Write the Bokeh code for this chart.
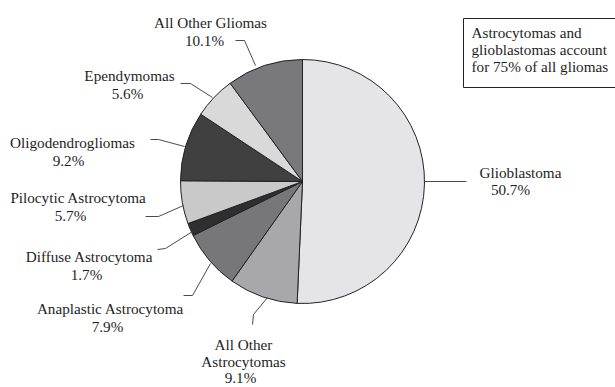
import math
from bokeh.plotting import figure
from bokeh.models import ColumnDataSource, Range1d
from bokeh.core.properties import value
from bokeh.embed import file_html
from bokeh.resources import INLINE

# Glioma subtypes, clockwise from 12 o'clock
categories = ["Glioblastoma", "All Other Astrocytomas", "Anaplastic Astrocytoma",
              "Diffuse Astrocytoma", "Pilocytic Astrocytoma", "Oligodendrogliomas",
              "Ependymomas", "All Other Gliomas"]
percent = [50.7, 9.1, 7.9, 1.7, 5.7, 9.2, 5.6, 10.1]
fills = ["#e5e5e7", "#a8a8aa", "#77777a", "#2f2f2f", "#c9c9ca", "#404040",
         "#d9d9da", "#79797c"]

W, H = 615, 387
FONT = value("Liberation Serif")
FS = "15.2px"


def Y(y):
    # page-style y (from top) to data y
    return H - y


cx, cy, r = 302, Y(181), 122

p = figure(width=W, height=H, output_backend="svg", toolbar_location=None,
           x_range=Range1d(0, W), y_range=Range1d(0, H), min_border=0)
p.axis.visible = False
p.grid.visible = False
p.outline_line_color = None
p.background_fill_color = "white"

total = sum(percent)
starts, ends = [], []
acc = 0.0
for v in percent:
    starts.append(math.pi / 2 - 2 * math.pi * acc / total)
    acc += v
    ends.append(math.pi / 2 - 2 * math.pi * acc / total)

src = ColumnDataSource(dict(start=starts, end=ends, fill=fills, name=categories))
p.wedge(x=cx, y=cy, radius=r, start_angle="start", end_angle="end",
        direction="clock", fill_color="fill", line_color="#222222",
        line_width=1, source=src)

# label placement: name lines, name centre, percentage centre, leader polyline
label_layout = {
    "Glioblastoma": (["Glioblastoma"], (520, 172), (510, 189),
                     [(424, 181), (466, 181)]),
    "All Other Astrocytomas": (["All Other", "Astrocytomas"], (243, 344), (240, 377),
                               [(252, 324), (253, 314), (267, 297)]),
    "Anaplastic Astrocytoma": (["Anaplastic Astrocytoma"], (110, 308), (107, 326),
                               [(183, 295), (192, 295), (210, 263)]),
    "Diffuse Astrocytoma": (["Diffuse Astrocytoma"], (89, 256), (86, 274),
                            [(157, 249), (165, 248), (192, 231)]),
    "Pilocytic Astrocytoma": (["Pilocytic Astrocytoma"], (78, 197), (70, 215),
                              [(145, 216), (158, 216), (183, 205)]),
    "Oligodendrogliomas": (["Oligodendrogliomas"], (72, 142), (68, 160),
                           [(150, 139), (158, 139), (184, 146)]),
    "Ependymomas": (["Ependymomas"], (129, 75), (127, 93),
                    [(180, 83), (190, 83), (212, 97)]),
    "All Other Gliomas": (["All Other Gliomas"], (210, 22), (204, 40),
                          [(235, 40), (244, 40), (255, 65)]),
}

tx, ty, tt = [], [], []
lxs, lys = [], []
for name, v in zip(categories, percent):
    lines, (nx, ny), (px_, py_), leader = label_layout[name]
    for i, line in enumerate(lines):
        tx.append(nx)
        ty.append(Y(ny + 17 * i))
        tt.append(line)
    tx.append(px_)
    ty.append(Y(py_))
    tt.append(f"{v:.1f}%")
    lxs.append([a for a, _ in leader])
    lys.append([Y(b) for _, b in leader])

p.multi_line(xs=lxs, ys=lys, line_color="#4a4a4a", line_width=1)
p.text(x=tx, y=ty, text=tt, text_font=FONT, text_font_size=FS,
       text_color="#1e1e1e", text_align="center", text_baseline="middle")

# note box
note = ["Astrocytomas and", "glioblastomas account", "for 75% of all gliomas"]
p.quad(left=[463], right=[618], top=[Y(18)], bottom=[Y(87)],
       fill_color="white", line_color="#222222", line_width=1)
p.text(x=[471] * 3, y=[Y(32), Y(49), Y(66)], text=note, text_font=FONT,
       text_font_size=FS, text_color="#1e1e1e", text_align="left",
       text_baseline="middle")

open("out.html", "w").write(file_html(p, INLINE))
